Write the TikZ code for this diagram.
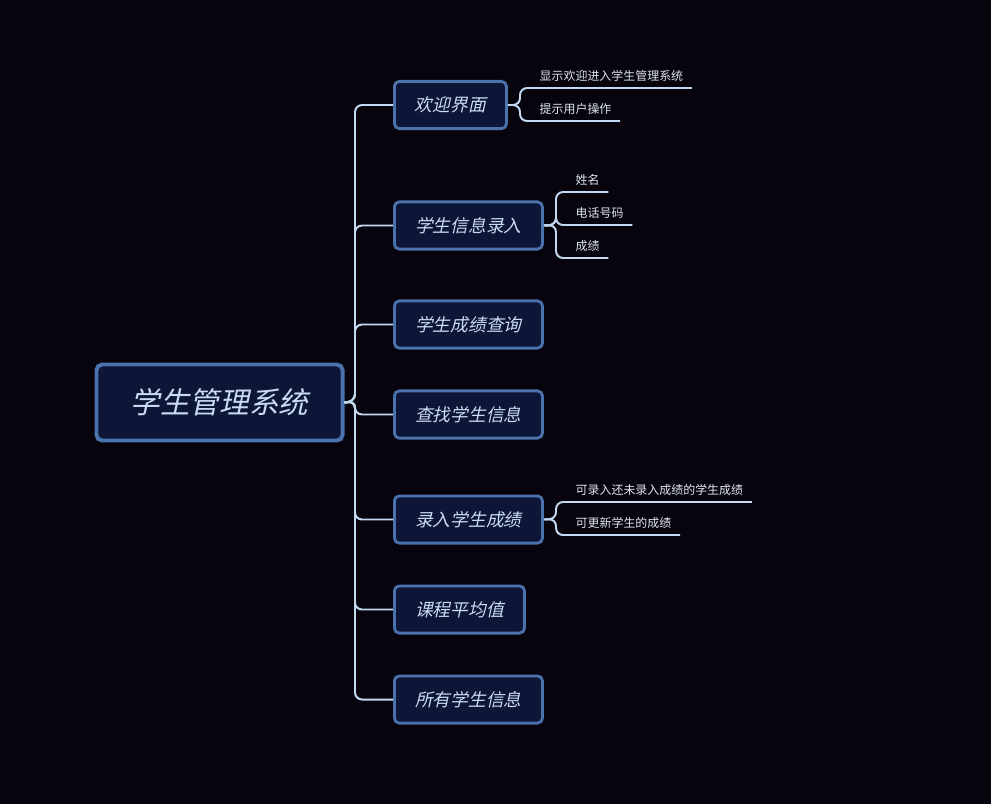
\documentclass[tikz,border=0pt]{standalone}
\usepackage{fontspec}
\usepackage{xcolor}
\usepackage{tikz}
\usetikzlibrary{positioning}
\newfontfamily\cjk{Noto Sans CJK SC}
\newfontfamily\cjkit[FakeSlant=0.22]{Noto Sans CJK SC}
\definecolor{mbg}{HTML}{08040E}
\definecolor{mfill}{HTML}{0D1636}
\definecolor{mborder}{HTML}{4A72AC}
\definecolor{mtext}{HTML}{CADCF3}
\definecolor{mline}{HTML}{C2D9F2}
\definecolor{mleaftext}{HTML}{DCE6F2}
\tikzset{
  mroot/.style={rounded corners=4pt, draw=mborder, fill=mfill, line width=2.8pt,
                minimum width=6.15cm, minimum height=1.9cm, text=mtext,
                font=\cjkit\fontsize{21}{24}\selectfont},
  mtopic/.style={rounded corners=3.5pt, draw=mborder, fill=mfill, line width=2pt,
                 minimum height=1.18cm, text=mtext, anchor=west,
                 font=\cjkit\fontsize{12.6}{15}\selectfont},
  mleaf/.style={anchor=south west, inner xsep=6pt, inner ysep=4.5pt, text=mleaftext,
                font=\cjk\fontsize{8.5}{10}\selectfont},
  mbranch/.style={draw=mline, line width=1.4pt, rounded corners=5pt},
}

\begin{document}
\begin{tikzpicture}[x=0.025cm,y=-0.025cm]

  % fond
  \fill[mbg] (0,0) rectangle (991,804);
  \useasboundingbox (0,0) rectangle (991,804);

  % racine
  \node[mroot] (root) at (219.5,402.5) {学生管理系统};
  \coordinate (trunk) at (355,401);

  % sujets
  \node[mtopic, minimum width=2.8cm] (t1) at (393,105) {欢迎界面};
  \node[mtopic, minimum width=3.7cm] (t2) at (393,225.5) {学生信息录入};
  \node[mtopic, minimum width=3.7cm] (t3) at (393,324.5) {学生成绩查询};
  \node[mtopic, minimum width=3.7cm] (t4) at (393,414.5) {查找学生信息};
  \node[mtopic, minimum width=3.7cm] (t5) at (393,519.5) {录入学生成绩};
  \node[mtopic, minimum width=3.25cm] (t6) at (393,609.5) {课程平均值};
  \node[mtopic, minimum width=3.7cm] (t7) at (393,699.5) {所有学生信息};

  \foreach \t in {t1,t2,t3,t4,t5,t6,t7}
    \draw[mbranch] (root.east) -- (trunk) |- (\t.west);

  % feuilles
  \coordinate (b1) at (520,105);
  \node[mleaf] (l11) at (531,88) {显示欢迎进入学生管理系统};
  \node[mleaf] (l12) at (531,121) {提示用户操作};

  \coordinate (b2) at (556,225);
  \node[mleaf] (l21) at (567,192) {姓名};
  \node[mleaf] (l22) at (567,225) {电话号码};
  \node[mleaf] (l23) at (567,258) {成绩};

  \coordinate (b5) at (556,519);
  \node[mleaf] (l51) at (567,502) {可录入还未录入成绩的学生成绩};
  \node[mleaf] (l52) at (567,535) {可更新学生的成绩};

  \foreach \p/\b/\l in {t1/b1/l11, t1/b1/l12, t2/b2/l21, t2/b2/l22, t2/b2/l23,
                        t5/b5/l51, t5/b5/l52}
    \draw[mbranch] (\p.east) -- (\b) |- (\l.south east);

\end{tikzpicture}
\end{document}
